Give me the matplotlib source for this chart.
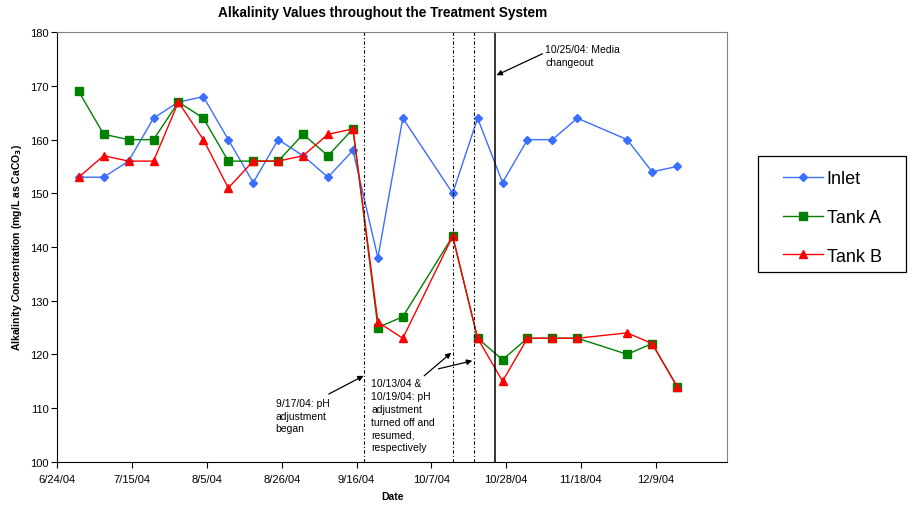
import datetime as dt
import matplotlib
matplotlib.use('Agg')
from matplotlib import pyplot as plt
import matplotlib.dates as mdates
from matplotlib.patches import Rectangle

plt.rcParams['font.family'] = ['Liberation Sans', 'DejaVu Sans']

# sample dates (weekly)
dates = ['2004-06-30', '2004-07-07', '2004-07-14', '2004-07-21', '2004-07-28',
         '2004-08-04', '2004-08-11', '2004-08-18', '2004-08-25', '2004-09-01',
         '2004-09-08', '2004-09-15', '2004-09-22', '2004-09-29', '2004-10-13',
         '2004-10-20', '2004-10-27', '2004-11-03', '2004-11-10', '2004-11-17',
         '2004-12-01', '2004-12-08', '2004-12-15']
inlet = [153, 153, 156, 164, 167, 168, 160, 152, 160, 157, 153, 158,
         138, 164, 150, 164, 152, 160, 160, 164, 160, 154, 155]
tank_a = [169, 161, 160, 160, 167, 164, 156, 156, 156, 161, 157, 162,
          125, 127, 142, 123, 119, 123, 123, 123, 120, 122, 114]
tank_b = [153, 157, 156, 156, 167, 160, 151, 156, 156, 157, 161, 162,
          126, 123, 142, 123, 115, 123, 123, 123, 124, 122, 114]

ph_lines = ['2004-09-18', '2004-10-13', '2004-10-19']
media_line = '2004-10-25'

x = [dt.datetime.strptime(d, '%Y-%m-%d') for d in dates]
d0 = dt.datetime(2004, 6, 24)
def day(n):
    return d0 + dt.timedelta(days=n)

fig = plt.figure(figsize=(9.13, 5.06), dpi=100)
ax = fig.add_axes([0.0628, 0.0856, 0.7334, 0.8486])

ax.plot(x, inlet, color='#3A6EFF', lw=1.0, marker='D', ms=4.4, label='Inlet')
ax.plot(x, tank_a, color='#008000', lw=1.0, marker='s', ms=5.2, label='Tank A')
ax.plot(x, tank_b, color='#FF0000', lw=1.0, marker='^', ms=5.7, label='Tank B')

for d in ph_lines:
    ax.axvline(dt.datetime.strptime(d, '%Y-%m-%d'), color='black', lw=0.8,
               linestyle=(0, (3, 2, 1, 2)))
ax.axvline(dt.datetime.strptime(media_line, '%Y-%m-%d'), color='black', lw=1.1)

ax.set_xlim(d0, day(188))
ax.set_ylim(100, 180)
ax.set_yticks(range(100, 181, 10))
ax.set_xticks([day(21 * k) for k in range(9)])
ax.xaxis.set_major_formatter(plt.FuncFormatter(
    lambda v, p: '{0.month}/{0.day}/{0:%y}'.format(mdates.num2date(v))))
ax.tick_params(labelsize=8, direction='out', length=4, width=0.8)
ax.tick_params(axis='x', pad=5)
ax.tick_params(axis='y', pad=2)
for s in ['top', 'right']:
    ax.spines[s].set_color('#808080')
for s in ['left', 'bottom']:
    ax.spines[s].set_color('black')

fig.text(0.419, 0.974, 'Alkalinity Values throughout the Treatment System',
         ha='center', va='center', fontsize=9.8, fontweight='bold')
ax.set_xlabel('Date', fontsize=7.5, fontweight='bold')
ax.xaxis.set_label_coords(0.5, -0.068)
ax.set_ylabel('Alkalinity Concentration (mg/L as CaCO$_\\mathbf{3}$)',
              fontsize=7.5, fontweight='bold')
ax.yaxis.set_label_coords(-0.05, 0.5)

# annotations
ap = dict(arrowstyle='-|>', color='black', lw=0.9, mutation_scale=8,
          shrinkA=0, shrinkB=0)
ax.annotate('', xy=(day(123.3), 172.0), xytext=(day(136.2), 176.0), arrowprops=ap)
ax.text(day(137.0), 177.8, '10/25/04: Media\nchangeout', fontsize=7.5,
        va='top', ha='left', linespacing=1.35)

ax.annotate('', xy=(day(86.0), 116.0), xytext=(day(76.2), 112.6), arrowprops=ap)
ax.text(day(61.3), 111.9, '9/17/04: pH\nadjustment\nbegan', fontsize=7.5,
        va='top', ha='left', linespacing=1.35)

ax.annotate('', xy=(day(110.6), 120.3), xytext=(day(103.0), 116.0), arrowprops=ap)
ax.annotate('', xy=(day(116.5), 118.8), xytext=(day(107.0), 117.3), arrowprops=ap)
ax.text(day(88.2), 115.5,
        '10/13/04 &\n10/19/04: pH\nadjustment\nturned off and\nresumed,\nrespectively',
        fontsize=7.5, va='top', ha='left', linespacing=1.35)

# legend
fig.patches.append(Rectangle((0.830, 0.460), 0.162, 0.230, transform=fig.transFigure,
                             fill=False, edgecolor='black', lw=0.9))
fig.legend(loc='center left', bbox_to_anchor=(0.858, 0.568), frameon=False,
           fontsize=13, handlelength=2.2, handletextpad=0.2, labelspacing=1.2,
           borderpad=0, borderaxespad=0, markerscale=1.0)

fig.savefig('out.png', dpi=100)
